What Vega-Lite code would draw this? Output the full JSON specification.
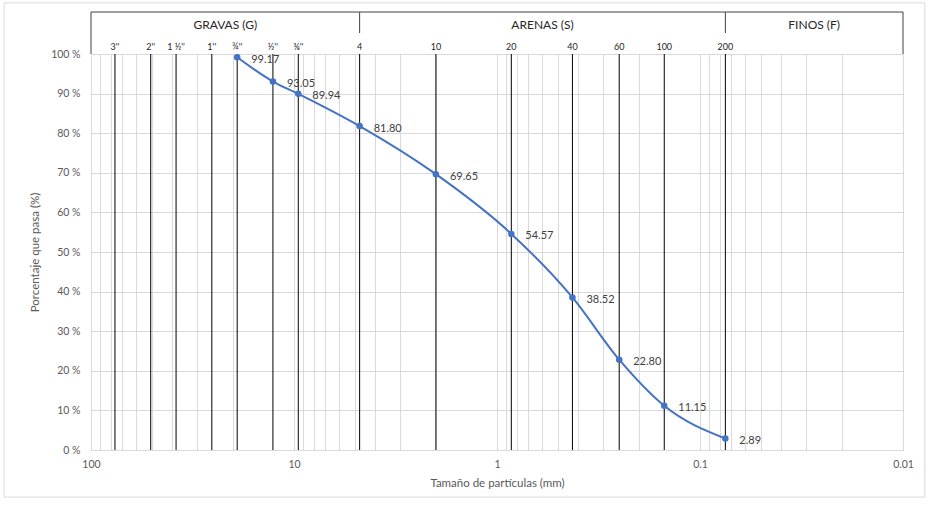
{
  "$schema": "https://vega.github.io/schema/vega-lite/v6.json",
  "width": 812,
  "height": 396,
  "autosize": {"type": "none"},
  "padding": {"left": 91, "top": 54, "right": 26, "bottom": 56},
  "background": "white",
  "config": {
    "font": "Lato",
    "view": {"stroke": null},
    "text": {"fontWeight": "normal"},
    "axis": {
      "labelColor": "#595959",
      "labelFont": "Lato",
      "labelFontSize": 10.5,
      "titleColor": "#595959",
      "titleFont": "Lato",
      "titleFontSize": 11.5,
      "titleFontWeight": "normal",
      "grid": true,
      "gridColor": "#d9d9d9",
      "ticks": false,
      "domainColor": "#d9d9d9"
    }
  },
  "datasets": {
    "ensayo": [
      {"mm": 19.05, "pasa": 99.17},
      {"mm": 12.7, "pasa": 93.05},
      {"mm": 9.525, "pasa": 89.94},
      {"mm": 4.75, "pasa": 81.80},
      {"mm": 2.0, "pasa": 69.65},
      {"mm": 0.85, "pasa": 54.57},
      {"mm": 0.425, "pasa": 38.52},
      {"mm": 0.25, "pasa": 22.80},
      {"mm": 0.15, "pasa": 11.15},
      {"mm": 0.075, "pasa": 2.89}
    ],
    "tamices": [
      {"tamiz": "3''", "mm": 76.2},
      {"tamiz": "2''", "mm": 50.8},
      {"tamiz": "1 ½''", "mm": 38.1},
      {"tamiz": "1''", "mm": 25.4},
      {"tamiz": "¾''", "mm": 19.05},
      {"tamiz": "½''", "mm": 12.7},
      {"tamiz": "⅜''", "mm": 9.525},
      {"tamiz": "4", "mm": 4.75},
      {"tamiz": "10", "mm": 2.0},
      {"tamiz": "20", "mm": 0.85},
      {"tamiz": "40", "mm": 0.425},
      {"tamiz": "60", "mm": 0.25},
      {"tamiz": "100", "mm": 0.15},
      {"tamiz": "200", "mm": 0.075}
    ],
    "zonas": [
      {"zona": "GRAVAS  (G)", "desde": 100, "hasta": 4.75},
      {"zona": "ARENAS  (S)", "desde": 4.75, "hasta": 0.075},
      {"zona": "FINOS  (F)", "desde": 0.075, "hasta": 0.01}
    ],
    "marco": [{}]
  },
  "layer": [
    {
      "data": {"name": "ensayo"},
      "mark": {"type": "line", "color": "#4472C4", "strokeWidth": 2, "interpolate": "monotone"},
      "encoding": {
        "x": {
          "field": "mm", "type": "quantitative", "title": "Tamaño de partículas (mm)",
          "scale": {"type": "log", "domain": [0.01, 100], "reverse": true, "nice": false},
          "axis": {"orient": "bottom", "grid": true, "values": [100, 90, 80, 70, 60, 50, 40, 30, 20, 10, 9, 8, 7, 6, 5, 4, 3, 2, 1, 0.9, 0.8, 0.7, 0.6, 0.5, 0.4, 0.3, 0.2, 0.1, 0.09, 0.08, 0.07, 0.06, 0.05, 0.04, 0.03, 0.02, 0.01], "format": "~g", "labelExpr": "indexof([100, 10, 1, 0.1, 0.01], datum.value) >= 0 ? datum.label : ''", "labelPadding": 9, "titlePadding": 8, "labelFlush": false, "labelOverlap": false}
        },
        "y": {
          "field": "pasa", "type": "quantitative", "title": "Porcentaje que pasa (%)",
          "scale": {"domain": [0, 100], "nice": false, "zero": false},
          "axis": {"grid": true, "values": [0, 10, 20, 30, 40, 50, 60, 70, 80, 90, 100], "labelExpr": "datum.value + ' %'", "labelPadding": 11, "titlePadding": 10, "labelOverlap": false, "domain": false}
        }
      }
    },
    {
      "data": {"name": "marco"},
      "mark": {"type": "rect", "fill": "transparent", "stroke": "#d9d9d9", "strokeWidth": 1},
      "encoding": {
        "x": {"datum": 268, "type": "quantitative", "title": "Tamaño de partículas (mm)",
          "axis": {"orient": "bottom", "grid": true, "values": [100, 90, 80, 70, 60, 50, 40, 30, 20, 10, 9, 8, 7, 6, 5, 4, 3, 2, 1, 0.9, 0.8, 0.7, 0.6, 0.5, 0.4, 0.3, 0.2, 0.1, 0.09, 0.08, 0.07, 0.06, 0.05, 0.04, 0.03, 0.02, 0.01], "format": "~g", "labelExpr": "indexof([100, 10, 1, 0.1, 0.01], datum.value) >= 0 ? datum.label : ''", "labelPadding": 9, "titlePadding": 8, "labelFlush": false, "labelOverlap": false}},
        "x2": {"datum": 0.0078},
        "y": {"datum": 112.9, "type": "quantitative", "title": "Porcentaje que pasa (%)",
          "axis": {"grid": true, "values": [0, 10, 20, 30, 40, 50, 60, 70, 80, 90, 100], "labelExpr": "datum.value + ' %'", "labelPadding": 11, "titlePadding": 10, "labelOverlap": false, "domain": false}},
        "y2": {"datum": -11.9}
      }
    },
    {
      "data": {"name": "tamices"},
      "mark": {"type": "rule", "color": "#000000", "strokeWidth": 1},
      "encoding": {
        "x": {"field": "mm", "type": "quantitative", "title": "Tamaño de partículas (mm)",
          "axis": {"orient": "bottom", "grid": true, "values": [100, 90, 80, 70, 60, 50, 40, 30, 20, 10, 9, 8, 7, 6, 5, 4, 3, 2, 1, 0.9, 0.8, 0.7, 0.6, 0.5, 0.4, 0.3, 0.2, 0.1, 0.09, 0.08, 0.07, 0.06, 0.05, 0.04, 0.03, 0.02, 0.01], "format": "~g", "labelExpr": "indexof([100, 10, 1, 0.1, 0.01], datum.value) >= 0 ? datum.label : ''", "labelPadding": 9, "titlePadding": 8, "labelFlush": false, "labelOverlap": false}},
        "y": {"datum": 0, "type": "quantitative", "title": "Porcentaje que pasa (%)",
          "axis": {"grid": true, "values": [0, 10, 20, 30, 40, 50, 60, 70, 80, 90, 100], "labelExpr": "datum.value + ' %'", "labelPadding": 11, "titlePadding": 10, "labelOverlap": false, "domain": false}},
        "y2": {"datum": 100}
      }
    },
    {
      "data": {"name": "tamices"},
      "mark": {"type": "text", "fontSize": 9, "color": "#262626", "baseline": "middle", "align": "center"},
      "encoding": {
        "x": {"field": "mm", "type": "quantitative", "title": "Tamaño de partículas (mm)",
          "axis": {"orient": "bottom", "grid": true, "values": [100, 90, 80, 70, 60, 50, 40, 30, 20, 10, 9, 8, 7, 6, 5, 4, 3, 2, 1, 0.9, 0.8, 0.7, 0.6, 0.5, 0.4, 0.3, 0.2, 0.1, 0.09, 0.08, 0.07, 0.06, 0.05, 0.04, 0.03, 0.02, 0.01], "format": "~g", "labelExpr": "indexof([100, 10, 1, 0.1, 0.01], datum.value) >= 0 ? datum.label : ''", "labelPadding": 9, "titlePadding": 8, "labelFlush": false, "labelOverlap": false}},
        "y": {"datum": 101.8, "type": "quantitative", "title": "Porcentaje que pasa (%)",
          "axis": {"grid": true, "values": [0, 10, 20, 30, 40, 50, 60, 70, 80, 90, 100], "labelExpr": "datum.value + ' %'", "labelPadding": 11, "titlePadding": 10, "labelOverlap": false, "domain": false}},
        "text": {"field": "tamiz"}
      }
    },
    {
      "data": {"name": "ensayo"},
      "mark": {"type": "circle", "color": "#4472C4", "size": 42, "opacity": 1},
      "encoding": {
        "x": {"field": "mm", "type": "quantitative", "title": "Tamaño de partículas (mm)",
          "axis": {"orient": "bottom", "grid": true, "values": [100, 90, 80, 70, 60, 50, 40, 30, 20, 10, 9, 8, 7, 6, 5, 4, 3, 2, 1, 0.9, 0.8, 0.7, 0.6, 0.5, 0.4, 0.3, 0.2, 0.1, 0.09, 0.08, 0.07, 0.06, 0.05, 0.04, 0.03, 0.02, 0.01], "format": "~g", "labelExpr": "indexof([100, 10, 1, 0.1, 0.01], datum.value) >= 0 ? datum.label : ''", "labelPadding": 9, "titlePadding": 8, "labelFlush": false, "labelOverlap": false}},
        "y": {"field": "pasa", "type": "quantitative", "title": "Porcentaje que pasa (%)",
          "axis": {"grid": true, "values": [0, 10, 20, 30, 40, 50, 60, 70, 80, 90, 100], "labelExpr": "datum.value + ' %'", "labelPadding": 11, "titlePadding": 10, "labelOverlap": false, "domain": false}}
      }
    },
    {
      "data": {"name": "ensayo"},
      "mark": {"type": "text", "align": "left", "baseline": "middle", "dx": 14, "dy": 2.5, "fontSize": 11, "color": "#404040"},
      "encoding": {
        "x": {"field": "mm", "type": "quantitative", "title": "Tamaño de partículas (mm)",
          "axis": {"orient": "bottom", "grid": true, "values": [100, 90, 80, 70, 60, 50, 40, 30, 20, 10, 9, 8, 7, 6, 5, 4, 3, 2, 1, 0.9, 0.8, 0.7, 0.6, 0.5, 0.4, 0.3, 0.2, 0.1, 0.09, 0.08, 0.07, 0.06, 0.05, 0.04, 0.03, 0.02, 0.01], "format": "~g", "labelExpr": "indexof([100, 10, 1, 0.1, 0.01], datum.value) >= 0 ? datum.label : ''", "labelPadding": 9, "titlePadding": 8, "labelFlush": false, "labelOverlap": false}},
        "y": {"field": "pasa", "type": "quantitative", "title": "Porcentaje que pasa (%)",
          "axis": {"grid": true, "values": [0, 10, 20, 30, 40, 50, 60, 70, 80, 90, 100], "labelExpr": "datum.value + ' %'", "labelPadding": 11, "titlePadding": 10, "labelOverlap": false, "domain": false}},
        "text": {"field": "pasa", "type": "quantitative", "format": ".2f"}
      }
    },
    {
      "data": {"name": "zonas"},
      "mark": {"type": "rule", "color": "#404040", "strokeWidth": 1},
      "encoding": {
        "x": {"field": "desde", "type": "quantitative", "title": "Tamaño de partículas (mm)",
          "axis": {"orient": "bottom", "grid": true, "values": [100, 90, 80, 70, 60, 50, 40, 30, 20, 10, 9, 8, 7, 6, 5, 4, 3, 2, 1, 0.9, 0.8, 0.7, 0.6, 0.5, 0.4, 0.3, 0.2, 0.1, 0.09, 0.08, 0.07, 0.06, 0.05, 0.04, 0.03, 0.02, 0.01], "format": "~g", "labelExpr": "indexof([100, 10, 1, 0.1, 0.01], datum.value) >= 0 ? datum.label : ''", "labelPadding": 9, "titlePadding": 8, "labelFlush": false, "labelOverlap": false}},
        "x2": {"field": "hasta"},
        "y": {"datum": 110.6, "type": "quantitative", "title": "Porcentaje que pasa (%)",
          "axis": {"grid": true, "values": [0, 10, 20, 30, 40, 50, 60, 70, 80, 90, 100], "labelExpr": "datum.value + ' %'", "labelPadding": 11, "titlePadding": 10, "labelOverlap": false, "domain": false}}
      }
    },
    {
      "data": {"name": "zonas"},
      "transform": [{"filter": "datum.desde < 100"}],
      "mark": {"type": "rule", "color": "#404040", "strokeWidth": 1},
      "encoding": {
        "x": {"field": "desde", "type": "quantitative", "title": "Tamaño de partículas (mm)",
          "axis": {"orient": "bottom", "grid": true, "values": [100, 90, 80, 70, 60, 50, 40, 30, 20, 10, 9, 8, 7, 6, 5, 4, 3, 2, 1, 0.9, 0.8, 0.7, 0.6, 0.5, 0.4, 0.3, 0.2, 0.1, 0.09, 0.08, 0.07, 0.06, 0.05, 0.04, 0.03, 0.02, 0.01], "format": "~g", "labelExpr": "indexof([100, 10, 1, 0.1, 0.01], datum.value) >= 0 ? datum.label : ''", "labelPadding": 9, "titlePadding": 8, "labelFlush": false, "labelOverlap": false}},
        "y": {"datum": 105.3, "type": "quantitative", "title": "Porcentaje que pasa (%)",
          "axis": {"grid": true, "values": [0, 10, 20, 30, 40, 50, 60, 70, 80, 90, 100], "labelExpr": "datum.value + ' %'", "labelPadding": 11, "titlePadding": 10, "labelOverlap": false, "domain": false}},
        "y2": {"datum": 110.6}
      }
    },
    {
      "data": {"name": "zonas"},
      "transform": [{"filter": "datum.desde == 100"}],
      "mark": {"type": "rule", "color": "#404040", "strokeWidth": 1},
      "encoding": {
        "x": {"field": "desde", "type": "quantitative", "title": "Tamaño de partículas (mm)",
          "axis": {"orient": "bottom", "grid": true, "values": [100, 90, 80, 70, 60, 50, 40, 30, 20, 10, 9, 8, 7, 6, 5, 4, 3, 2, 1, 0.9, 0.8, 0.7, 0.6, 0.5, 0.4, 0.3, 0.2, 0.1, 0.09, 0.08, 0.07, 0.06, 0.05, 0.04, 0.03, 0.02, 0.01], "format": "~g", "labelExpr": "indexof([100, 10, 1, 0.1, 0.01], datum.value) >= 0 ? datum.label : ''", "labelPadding": 9, "titlePadding": 8, "labelFlush": false, "labelOverlap": false}},
        "y": {"datum": 100, "type": "quantitative", "title": "Porcentaje que pasa (%)",
          "axis": {"grid": true, "values": [0, 10, 20, 30, 40, 50, 60, 70, 80, 90, 100], "labelExpr": "datum.value + ' %'", "labelPadding": 11, "titlePadding": 10, "labelOverlap": false, "domain": false}},
        "y2": {"datum": 110.6}
      }
    },
    {
      "data": {"name": "zonas"},
      "transform": [{"filter": "datum.hasta == 0.01"}],
      "mark": {"type": "rule", "color": "#404040", "strokeWidth": 1},
      "encoding": {
        "x": {"field": "hasta", "type": "quantitative", "title": "Tamaño de partículas (mm)",
          "axis": {"orient": "bottom", "grid": true, "values": [100, 90, 80, 70, 60, 50, 40, 30, 20, 10, 9, 8, 7, 6, 5, 4, 3, 2, 1, 0.9, 0.8, 0.7, 0.6, 0.5, 0.4, 0.3, 0.2, 0.1, 0.09, 0.08, 0.07, 0.06, 0.05, 0.04, 0.03, 0.02, 0.01], "format": "~g", "labelExpr": "indexof([100, 10, 1, 0.1, 0.01], datum.value) >= 0 ? datum.label : ''", "labelPadding": 9, "titlePadding": 8, "labelFlush": false, "labelOverlap": false}},
        "y": {"datum": 100, "type": "quantitative", "title": "Porcentaje que pasa (%)",
          "axis": {"grid": true, "values": [0, 10, 20, 30, 40, 50, 60, 70, 80, 90, 100], "labelExpr": "datum.value + ' %'", "labelPadding": 11, "titlePadding": 10, "labelOverlap": false, "domain": false}},
        "y2": {"datum": 110.6}
      }
    },
    {
      "data": {"name": "zonas"},
      "transform": [{"calculate": "sqrt(datum.desde * datum.hasta)", "as": "centro"}],
      "mark": {"type": "text", "fontSize": 12, "fontWeight": "normal", "color": "#262626", "baseline": "middle", "align": "center"},
      "encoding": {
        "x": {"field": "centro", "type": "quantitative", "title": "Tamaño de partículas (mm)",
          "axis": {"orient": "bottom", "grid": true, "values": [100, 90, 80, 70, 60, 50, 40, 30, 20, 10, 9, 8, 7, 6, 5, 4, 3, 2, 1, 0.9, 0.8, 0.7, 0.6, 0.5, 0.4, 0.3, 0.2, 0.1, 0.09, 0.08, 0.07, 0.06, 0.05, 0.04, 0.03, 0.02, 0.01], "format": "~g", "labelExpr": "indexof([100, 10, 1, 0.1, 0.01], datum.value) >= 0 ? datum.label : ''", "labelPadding": 9, "titlePadding": 8, "labelFlush": false, "labelOverlap": false}},
        "y": {"datum": 107.2, "type": "quantitative", "title": "Porcentaje que pasa (%)",
          "axis": {"grid": true, "values": [0, 10, 20, 30, 40, 50, 60, 70, 80, 90, 100], "labelExpr": "datum.value + ' %'", "labelPadding": 11, "titlePadding": 10, "labelOverlap": false, "domain": false}},
        "text": {"field": "zona"}
      }
    }
  ]
}
